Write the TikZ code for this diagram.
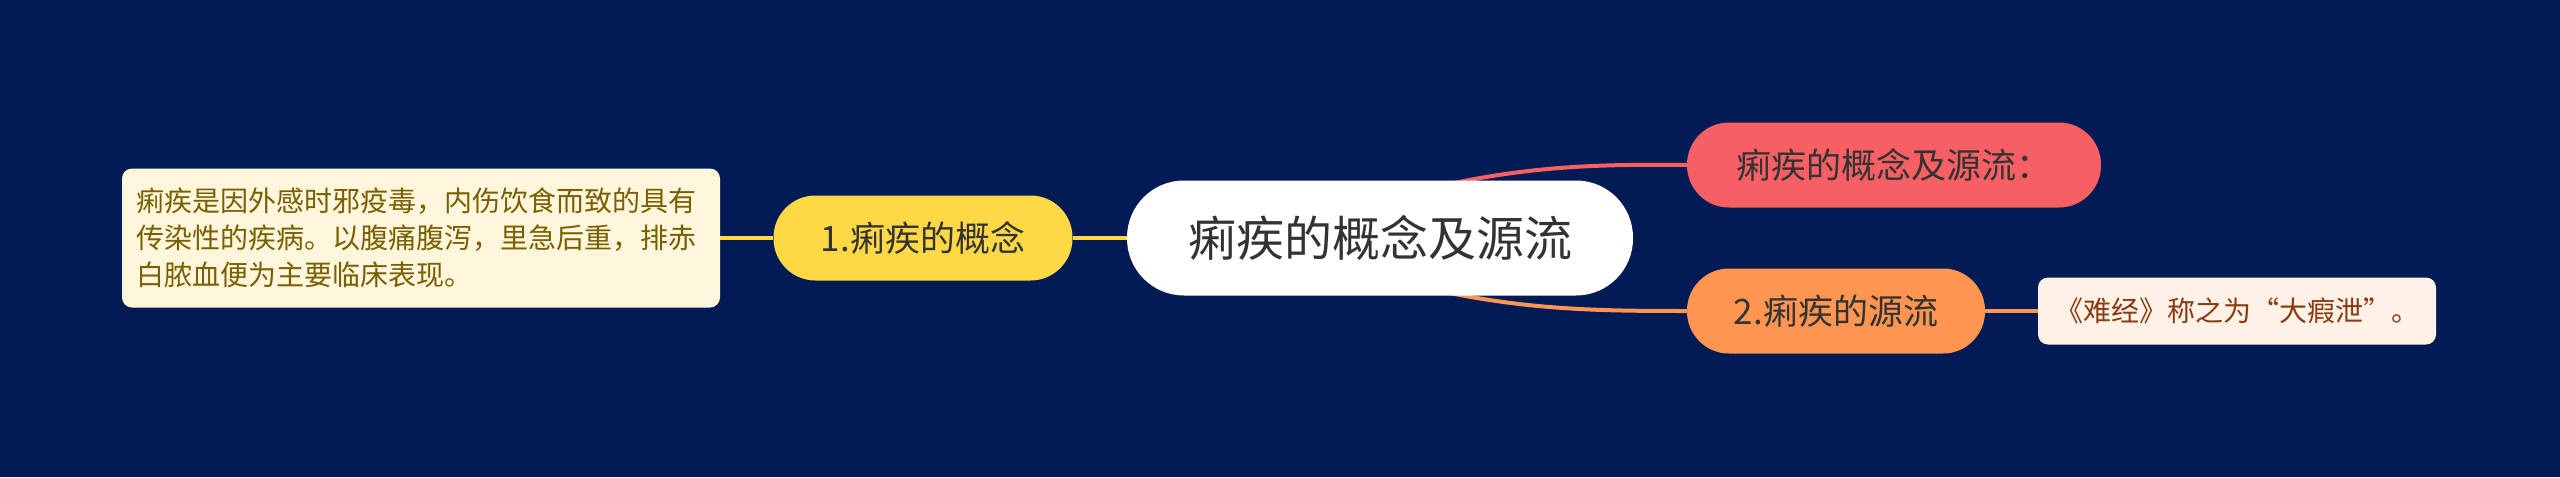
\documentclass[tikz,border=0pt]{standalone}
\usepackage{fontspec}
\setmainfont{Noto Sans CJK SC}
\definecolor{bg}{HTML}{021B55}
\definecolor{yel}{HTML}{FED845}
\definecolor{redn}{HTML}{F65F64}
\definecolor{orn}{HTML}{FE9651}
\definecolor{lbox}{HTML}{FEF1E6}
\definecolor{ybox}{HTML}{FEF6DC}
\definecolor{ytext}{HTML}{7A5F00}
\definecolor{otext}{HTML}{8A3A12}
\definecolor{dtext}{HTML}{333333}
\pgfdeclarelayer{bglayer}
\pgfdeclarelayer{edges}
\pgfsetlayers{bglayer,edges,main}
\tikzset{
  pill/.style={draw=none, inner sep=0pt, align=center, text=dtext},
  root/.style={pill, fill=white, minimum width=506pt, minimum height=115pt, rounded corners=57pt, font=\fontsize{48}{58}\selectfont},
  topic/.style={pill, minimum height=85pt, rounded corners=42pt, font=\fontsize{35}{42}\selectfont},
  leafbox/.style={draw=none, inner sep=0pt, rounded corners=10pt, font=\fontsize{28}{37}\selectfont},
  link/.style={line width=4pt}
}
\begin{document}
\begin{tikzpicture}[x=1pt,y=-1pt]
\begin{pgfonlayer}{bglayer}
\fill[bg] (0,0) rectangle (2560,477);
\end{pgfonlayer}
\useasboundingbox (0,0) rectangle (2560,477);

\node[root] (c) at (1380,238) {痢疾的概念及源流};
\node[topic, fill=yel, minimum width=299pt] (t1) at (923,238) {1.痢疾的概念};
\node[topic, fill=redn, minimum width=414pt] (t0) at (1894,165) {痢疾的概念及源流：};
\node[topic, fill=orn, minimum width=298pt] (t2) at (1836,311) {2.痢疾的源流};
\node[leafbox, fill=ybox, text=ytext, text width=570pt, align=left, minimum width=598pt, minimum height=139pt] (l1) at (421,238)
  {痢疾是因外感时邪疫毒，内伤饮食而致的具有\\传染性的疾病。以腹痛腹泻，里急后重，排赤\\白脓血便为主要临床表现。};
\node[leafbox, fill=lbox, text=otext, align=center, minimum width=398pt, minimum height=67pt] (l2) at (2237,311) {《难经》称之为“大瘕泄”。};

\coordinate (rs) at (1440,186);
\coordinate (os) at (1440,291);
\begin{pgfonlayer}{edges}
\draw[link, yel] (c.west) -- (t1.east);
\draw[link, yel] (t1.west) -- (l1.east);
\draw[link, redn] (rs) .. controls (1530,166) and (1600,164) .. (t0.west);
\draw[link, orn] (os) .. controls (1530,310) and (1600,311) .. (t2.west);
\draw[link, orn] (t2.east) -- (l2.west);
\end{pgfonlayer}
\end{tikzpicture}
\end{document}
